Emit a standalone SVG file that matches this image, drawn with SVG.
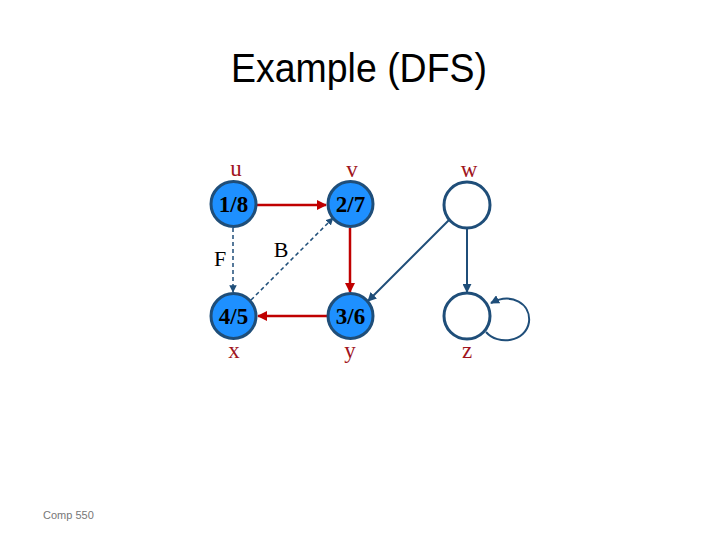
<svg xmlns="http://www.w3.org/2000/svg" width="720" height="540" viewBox="0 0 720 540">
<style>
.title{font-family:"Liberation Sans",Arial,sans-serif;font-size:41px;fill:#000}
.lbl{font-family:"Liberation Serif","Times New Roman",serif;font-size:23px;fill:#A01420}
.in{font-family:"Liberation Serif","Times New Roman",serif;font-size:23px;fill:#000;font-weight:bold}
.el{font-family:"Liberation Serif","Times New Roman",serif;font-size:22px;fill:#000}
.nd{fill:#1E90FF;stroke:#1F4E79;stroke-width:3}
.nw{fill:#fff;stroke:#1F4E79;stroke-width:3}
.red{stroke:#C00000;stroke-width:2.5;fill:none}
.blu{stroke:#1F4E79;stroke-width:2;fill:none}
.dash{stroke:#1F4E79;stroke-width:1.5;fill:none;stroke-dasharray:4 3}
.foot{font-family:"Liberation Sans",Arial,sans-serif;font-size:11px;fill:#777}
</style>
<defs>
<marker id="ar" viewBox="0 0 10 10" refX="9" refY="5" markerWidth="4" markerHeight="4" orient="auto" markerUnits="strokeWidth"><path d="M0,0 L10,5 L0,10 z" fill="#C00000"/></marker>
<marker id="ab" viewBox="0 0 10 10" refX="9" refY="5" markerWidth="4.5" markerHeight="4.5" orient="auto" markerUnits="strokeWidth"><path d="M0,0 L10,5 L0,10 z" fill="#1F4E79"/></marker>
<marker id="ad" viewBox="0 0 10 10" refX="9" refY="5" markerWidth="5" markerHeight="5" orient="auto" markerUnits="strokeWidth"><path d="M0,0 L10,5 L0,10 z" fill="#1F4E79"/></marker>
</defs>
<text class="title" x="359" y="82" text-anchor="middle" textLength="256" lengthAdjust="spacingAndGlyphs">Example (DFS)</text>
<g id="connectors">
<line class="red" x1="257" y1="205" x2="326" y2="205" marker-end="url(#ar)"/>
<line class="red" x1="350" y1="228" x2="350" y2="292" marker-end="url(#ar)"/>
<line class="red" x1="327" y1="316" x2="258" y2="316" marker-end="url(#ar)"/>
<line class="dash" x1="233" y1="228" x2="233" y2="292" marker-end="url(#ad)"/>
<line class="dash" x1="251" y1="300" x2="333" y2="218" marker-end="url(#ad)"/>
<line class="blu" x1="449" y1="220" x2="368" y2="301" marker-end="url(#ab)"/>
<line class="blu" x1="467" y1="229" x2="467" y2="292" marker-end="url(#ab)"/>
<path class="blu" d="M486,332 C498,346 526,342 529,322 C531,304 512,292 491,303" marker-end="url(#ab)"/>
<text class="el" x="220" y="266" text-anchor="middle">F</text>
<text class="el" x="281" y="257" text-anchor="middle">B</text>
</g>
<g id="u"><circle class="nd" cx="233.5" cy="204" r="22.5"/><text class="in" x="233.5" y="212" text-anchor="middle">1/8</text><text class="lbl" x="236" y="176" text-anchor="middle">u</text></g>
<g id="v"><circle class="nd" cx="350.5" cy="204" r="22.5"/><text class="in" x="350.5" y="212" text-anchor="middle">2/7</text><text class="lbl" x="352" y="177" text-anchor="middle">v</text></g>
<g id="w"><circle class="nw" cx="467" cy="205" r="23"/><text class="lbl" x="469" y="177" text-anchor="middle">w</text></g>
<g id="x"><circle class="nd" cx="233.5" cy="316" r="22.5"/><text class="in" x="233.5" y="324" text-anchor="middle">4/5</text><text class="lbl" x="234" y="358" text-anchor="middle">x</text></g>
<g id="y"><circle class="nd" cx="350.5" cy="316" r="22.5"/><text class="in" x="350.5" y="324" text-anchor="middle">3/6</text><text class="lbl" x="350" y="358" text-anchor="middle">y</text></g>
<g id="z"><circle class="nw" cx="467" cy="316" r="23"/><text class="lbl" x="467" y="358" text-anchor="middle">z</text></g>
<text class="foot" x="43" y="519">Comp 550</text>
</svg>
